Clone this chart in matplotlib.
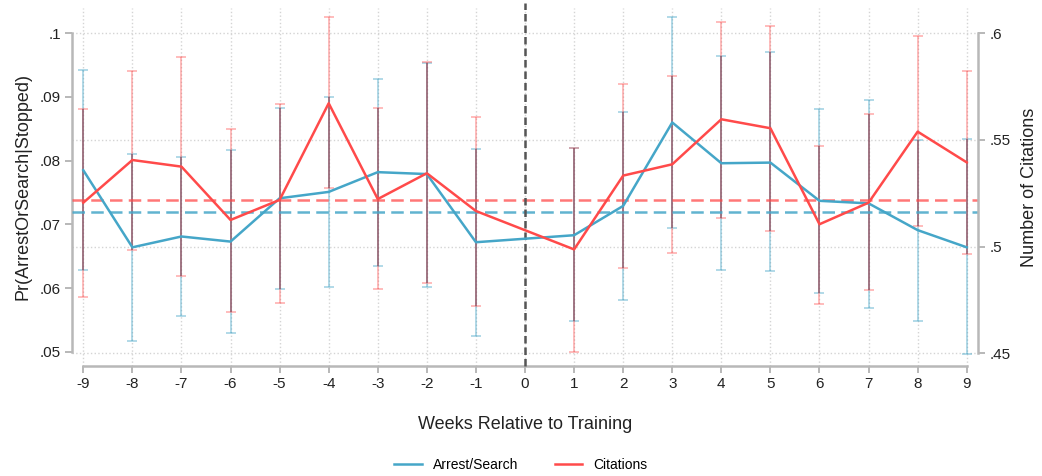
import matplotlib
matplotlib.use('Agg')
import matplotlib.pyplot as plt
import numpy as np
from matplotlib.lines import Line2D
from matplotlib.transforms import blended_transform_factory

plt.rcParams['font.family'] = ['Liberation Sans', 'DejaVu Sans']

# week 0 (training week) has no estimate
weeks = [-9, -8, -7, -6, -5, -4, -3, -2, -1, 1, 2, 3, 4, 5, 6, 7, 8, 9]

# Pr(Arrest or Search | Stopped), left axis
arrest = [0.0785, 0.0664, 0.0681, 0.0673, 0.0741, 0.0751, 0.0782, 0.0779, 0.0672,
          0.0683, 0.0729, 0.0860, 0.0796, 0.0797, 0.0737, 0.0733, 0.0691, 0.0664]
arrest_lo = [0.0629, 0.0517, 0.0556, 0.0529, 0.0598, 0.0602, 0.0634, 0.0602, 0.0525,
             0.0549, 0.0581, 0.0695, 0.0628, 0.0627, 0.0593, 0.0568, 0.0549, 0.0496]
arrest_hi = [0.0942, 0.0810, 0.0806, 0.0816, 0.0882, 0.0900, 0.0929, 0.0954, 0.0818,
             0.0820, 0.0877, 0.1025, 0.0964, 0.0970, 0.0881, 0.0895, 0.0832, 0.0834]
arrest_mean = 0.0719

# Number of citations, right axis
citations = [0.5206, 0.5406, 0.5375, 0.5125, 0.5219, 0.5672, 0.5223, 0.5344, 0.5167,
             0.4987, 0.5333, 0.5386, 0.5597, 0.5555, 0.5105, 0.5206, 0.5539, 0.5395]
citations_lo = [0.4765, 0.4984, 0.4862, 0.4695, 0.4737, 0.5273, 0.4800, 0.4828, 0.4723,
                0.4508, 0.4898, 0.4972, 0.5133, 0.5075, 0.4731, 0.4797, 0.5097, 0.4965]
citations_hi = [0.5644, 0.5825, 0.5888, 0.5550, 0.5669, 0.6075, 0.5648, 0.5864, 0.5609,
                0.5464, 0.5761, 0.5801, 0.6054, 0.6036, 0.5473, 0.5622, 0.5987, 0.5823]
citations_mean = 0.5219

left_ticks = [0.05, 0.06, 0.07, 0.08, 0.09, 0.1]
left_labels = ['.05', '.06', '.07', '.08', '.09', '.1']
right_ticks = [0.45, 0.5, 0.55, 0.6]
right_labels = ['.45', '.5', '.55', '.6']

blue = '#45a6c8'
red = '#ff4a4a'
overlap = '#6a3e52'
spine_c = '#b8b8b8'
grid_c = '#d4d4d4'
text_c = '#222222'

fig = plt.figure(figsize=(10.42, 4.76), dpi=100)
ax = fig.add_axes([0.0691, 0.2311, 0.8695, 0.7521])
ax2 = ax.twinx()

ax.set_xlim(-9.23, 9.23)
ax.set_ylim(0.04777, 0.10397)
ax2.set_ylim(0.44405, 0.61186)

rtrans = ax2.transData
hband = blended_transform_factory(ax.transAxes, ax2.transData)

# grid
for w in range(-9, 10):
    ax.axvline(w, color=grid_c, ls=':', lw=1, zorder=0)
for v in right_ticks:
    ax.plot([0, 1], [v, v], transform=hband, color=grid_c, ls=':', lw=1, zorder=0)

# confidence intervals
ax.vlines(weeks, arrest_lo, arrest_hi, color=blue, alpha=0.45, lw=1.3, zorder=1)
ax.plot(weeks, arrest_lo, ls='none', marker='_', ms=7, mew=1.3, color=blue, alpha=0.45, zorder=1)
ax.plot(weeks, arrest_hi, ls='none', marker='_', ms=7, mew=1.3, color=blue, alpha=0.45, zorder=1)
ax.vlines(weeks, citations_lo, citations_hi, color=red, alpha=0.4, lw=1.3, zorder=1, transform=rtrans)
ax.plot(weeks, citations_lo, ls='none', marker='_', ms=7, mew=1.3, color=red, alpha=0.4, zorder=1, transform=rtrans)
ax.plot(weeks, citations_hi, ls='none', marker='_', ms=7, mew=1.3, color=red, alpha=0.4, zorder=1, transform=rtrans)

# darker where the two intervals overlap
L0, L1 = ax.get_ylim()
R0, R1 = ax2.get_ylim()
scale = (L1 - L0) / (R1 - R0)
c_lo = L0 + (np.array(citations_lo) - R0) * scale
c_hi = L0 + (np.array(citations_hi) - R0) * scale
o_lo = np.maximum(arrest_lo, c_lo)
o_hi = np.minimum(arrest_hi, c_hi)
mask = o_hi > o_lo
ax.vlines(np.array(weeks)[mask], o_lo[mask], o_hi[mask], color=overlap, alpha=0.45, lw=1.4, zorder=2)

# means
ax.axhline(arrest_mean, color=blue, ls=(0, (5, 2.5)), lw=1.8, alpha=0.85, zorder=3)
ax.plot([0, 1], [citations_mean] * 2, transform=hband, color=red, ls=(0, (5, 2.5)), lw=1.8,
        alpha=0.75, zorder=3)

# training week
ax.axvline(0, ymin=0, ymax=1.015, color='#555555', ls=(0, (3, 1.6)), lw=1.8, zorder=3, clip_on=False)

# estimates
ax.plot(weeks, arrest, color=blue, lw=1.8, zorder=4)
ax.plot(weeks, citations, color=red, lw=1.8, zorder=5, transform=rtrans)

# axes styling
for a in (ax, ax2):
    a.spines['top'].set_visible(False)
ax.spines['right'].set_visible(False)
ax2.spines['left'].set_visible(False)
ax2.spines['bottom'].set_visible(False)
ax.spines['left'].set_bounds(0.05, 0.1)
ax.spines['bottom'].set_bounds(-9, 9)
ax2.spines['right'].set_bounds(0.45, 0.6)
for sp in (ax.spines['left'], ax.spines['bottom'], ax2.spines['right']):
    sp.set_color(spine_c)
    sp.set_linewidth(1.8)

ax.set_xticks(range(-9, 10))
ax.set_xticklabels([str(w) for w in range(-9, 10)])
ax.set_yticks(left_ticks)
ax.set_yticklabels(left_labels)
ax2.set_yticks(right_ticks)
ax2.set_yticklabels(right_labels)
ax.tick_params(color=spine_c, labelcolor=text_c, length=5, width=1.4, labelsize=11, pad=3)
ax2.tick_params(color=spine_c, labelcolor=text_c, length=5, width=1.4, labelsize=11, pad=3)

ax.set_xlabel('Weeks Relative to Training', fontsize=13, color=text_c, labelpad=18)
ax.set_ylabel('Pr(ArrestOrSearch|Stopped)', fontsize=13, color=text_c, labelpad=6)
ax2.set_ylabel('Number of Citations', fontsize=13, color=text_c, labelpad=8)

handles = [Line2D([0], [0], color=blue, lw=1.8), Line2D([0], [0], color=red, lw=1.8)]
fig.legend(handles, ['Arrest/Search', 'Citations'], loc='center', bbox_to_anchor=(0.5, 0.023),
           ncol=2, frameon=False, fontsize=10, handlelength=2.0, columnspacing=2.6)

fig.savefig('out.png', dpi=100)
